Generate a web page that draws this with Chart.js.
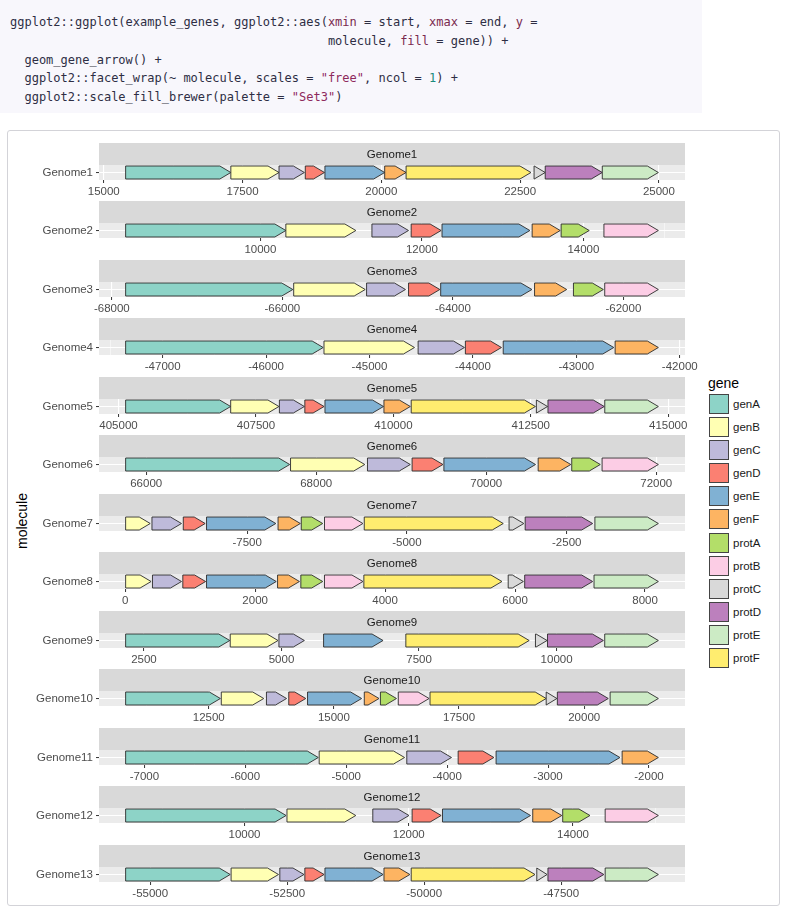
<!DOCTYPE html>
<html>
<head>
<meta charset="utf-8">
<script src="https://cdn.jsdelivr.net/npm/chart.js@4.4.0/dist/chart.umd.min.js"></script>
<style>
  body { margin: 0; width: 785px; height: 909px; background: #fff; position: relative; overflow: hidden;
         font-family: "Liberation Sans", Arial, sans-serif; }
  #code { position: absolute; left: 0; top: 0; width: 702px; height: 113px; background: #f8f7fc; }
  #code pre { margin: 0; position: absolute; left: 10px; top: 13px; font: 12px/18.8px "DejaVu Sans Mono", monospace; color: #2e2e44; }
  .arg { color: #7a2a4e; }
  .str { color: #8e2a5c; }
  .num { color: #1b8a7c; }
  #box { position: absolute; left: 7px; top: 130px; width: 771px; height: 774px; border: 1px solid #d3d3d8; border-radius: 3px; }
  .holder { position: absolute; left: 0; width: 700px; height: 59px; }
  #ylab { position: absolute; left: 22px; top: 521px; transform: translate(-50%, -50%) rotate(-90deg);
          font-size: 14px; color: #000; white-space: nowrap; }
  #legend { position: absolute; left: 708px; top: 373px; }
  #legend .title { font-size: 14px; color: #000; height: 21px; line-height: 21px; }
  #legend .item { position: relative; height: 23.1px; }
  #legend .key { position: absolute; left: 1px; top: 0; width: 18px; height: 18px; border: 1px solid #444; }
  #legend .lab { position: absolute; left: 25px; top: 0; line-height: 20px; font-size: 11.5px; color: #1a1a1a; }
</style>
</head>
<body>
<div id="code"><pre>ggplot2::ggplot(example_genes, ggplot2::aes(<span class="arg">xmin</span> = start, <span class="arg">xmax</span> = end, <span class="arg">y</span> =
                                            molecule, <span class="arg">fill</span> = gene)) +
  geom_gene_arrow() +
  ggplot2::facet_wrap(~ molecule, scales = <span class="str">"free"</span>, ncol = <span class="num">1</span>) +
  ggplot2::scale_fill_brewer(palette = <span class="str">"Set3"</span>)</pre></div>
<div id="box"></div>
<div id="ylab">molecule</div>
<div id="legend"></div>

<script>
/* =========================
   DATA
========================= */

const geneNames = ["genA", "genB", "genC", "genD", "genE", "genF",
                   "protA", "protB", "protC", "protD", "protE", "protF"];
const geneColors = ["#8DD3C7", "#FFFFB3", "#BEBADA", "#FB8072", "#80B1D3", "#FDB462",
                    "#B3DE69", "#FCCDE5", "#D9D9D9", "#BC80BD", "#CCEBC5", "#FFED6F"];

const molecules = ["Genome1", "Genome2", "Genome3", "Genome4", "Genome5", "Genome6", "Genome7",
                   "Genome8", "Genome9", "Genome10", "Genome11", "Genome12", "Genome13"];

// [gene, start, end]
const genome1 = [["genA", 15394, 17289], ["genB", 17289, 18157], ["genC", 18157, 18614], ["genD", 18630, 18976],
  ["genE", 18984, 20060], ["genF", 20060, 20446], ["protF", 20446, 22695], ["protC", 22751, 22952],
  ["protD", 22952, 23980], ["protE", 23980, 24990]];
const genome2 = [["genA", 8331, 10315], ["genB", 10315, 11182], ["genC", 11381, 11834], ["genD", 11867, 12238],
  ["genE", 12249, 13337], ["genF", 13365, 13713], ["protA", 13724, 14072], ["protB", 14254, 14928]];
const genome3 = [["genA", -67838, -65877], ["genB", -65867, -65028], ["genC", -65012, -64556], ["genD", -64520, -64153],
  ["genE", -64143, -63073], ["genF", -63042, -62665], ["protA", -62586, -62235], ["protB", -62219, -61590]];
const genome4 = [["genA", -47358, -45448], ["genB", -45440, -44565], ["genC", -44530, -44082], ["genD", -44073, -43724],
  ["genE", -43707, -42638], ["genF", -42625, -42207]];
const genome5 = [["genA", 405130, 407041], ["genB", 407041, 407919], ["genC", 407927, 408382], ["genD", 408390, 408740],
  ["genE", 408756, 409821], ["genF", 409829, 410309], ["protF", 410325, 412585], ["protC", 412602, 412805],
  ["protD", 412813, 413837], ["protE", 413846, 414821]];
const genome6 = [["genA", 65758, 67688], ["genB", 67698, 68571], ["genC", 68603, 69107], ["genD", 69128, 69491],
  ["genE", 69502, 70580], ["genF", 70611, 70995], ["protA", 71006, 71342], ["protB", 71363, 72025]];
const genome7 = [["genB", -9402, -9017], ["genC", -8990, -8528], ["genD", -8500, -8157], ["genE", -8136, -7052],
  ["genF", -7017, -6668], ["protA", -6654, -6318], ["protB", -6290, -5689], ["protF", -5668, -3493],
  ["protC", -3402, -3171], ["protD", -3150, -2094], ["protE", -2059, -1066]];
const genome8 = [["genB", 7, 399], ["genC", 420, 867], ["genD", 887, 1238], ["genE", 1252, 2325],
  ["genF", 2345, 2682], ["protA", 2703, 3040], ["protB", 3067, 3659], ["protF", 3673, 5798],
  ["protC", 5894, 6128], ["protD", 6148, 7194], ["protE", 7215, 8205]];
const genome9 = [["genA", 2167, 4060], ["genB", 4068, 4937], ["genC", 4953, 5416], ["genE", 5765, 6846],
  ["protF", 7260, 9502], ["protC", 9616, 9827], ["protD", 9835, 10851], ["protE", 10875, 11850]];
const genome10 = [["genA", 10839, 12732], ["genB", 12750, 13598], ["genC", 13652, 14054], ["genD", 14098, 14438],
  ["genE", 14473, 15554], ["genF", 15607, 15902], ["protA", 15929, 16250], ["protB", 16286, 16902],
  ["protF", 16920, 19241], ["protC", 19241, 19455], ["protD", 19464, 20482], ["protE", 20518, 21482]];
const genome11 = [["genA", -7186, -5277], ["genB", -5268, -4422], ["genC", -4400, -3957], ["genD", -3891, -3537],
  ["genE", -3515, -2288], ["genF", -2266, -1907]];
const genome12 = [["genA", 8552, 10506], ["genB", 10517, 11355], ["genC", 11562, 12003], ["genD", 12041, 12395],
  ["genE", 12411, 13483], ["genF", 13510, 13864], ["protA", 13875, 14207], ["protB", 14392, 15040]];
const genome13 = [["genA", -55449, -53540], ["genB", -53524, -52659], ["genC", -52635, -52194], ["genD", -52178, -51827],
  ["genE", -51811, -50750], ["genF", -50734, -50261], ["protF", -50237, -47977], ["protC", -47945, -47757],
  ["protD", -47741, -46721], ["protE", -46697, -45726]];

const genomeData = [genome1, genome2, genome3, genome4, genome5, genome6, genome7,
                    genome8, genome9, genome10, genome11, genome12, genome13];

// x axis breaks per facet
const genomeTicks = [
  [15000, 17500, 20000, 22500, 25000],
  [10000, 12000, 14000],
  [-68000, -66000, -64000, -62000],
  [-47000, -46000, -45000, -44000, -43000, -42000],
  [405000, 407500, 410000, 412500, 415000],
  [66000, 68000, 70000, 72000],
  [-7500, -5000, -2500],
  [0, 2000, 4000, 6000, 8000],
  [2500, 5000, 7500, 10000],
  [12500, 15000, 17500, 20000],
  [-7000, -6000, -5000, -4000, -3000, -2000],
  [10000, 12000, 14000],
  [-55000, -52500, -50000, -47500]
];

/* =========================
   PLUGINS
========================= */

const FONT = "'Liberation Sans', Arial, sans-serif";

const facetPanel = {
  id: "facetPanel",
  beforeDraw(chart, args, opts) {
    const { ctx, chartArea: a } = chart;
    ctx.save();
    ctx.fillStyle = "#EBEBEB";
    ctx.fillRect(a.left, a.top, a.right - a.left, a.bottom - a.top);
    // strip
    ctx.fillStyle = "#D9D9D9";
    ctx.fillRect(a.left, 0, a.right - a.left, a.top);
    ctx.fillStyle = "#1A1A1A";
    ctx.font = "11.5px " + FONT;
    ctx.textAlign = "center";
    ctx.textBaseline = "middle";
    ctx.fillText(opts.label, (a.left + a.right) / 2, a.top / 2 + 0.5);
    ctx.restore();
  }
};

const geneArrows = {
  id: "geneArrows",
  beforeDatasetDraw() { return false; },
  afterDatasetsDraw(chart) {
    const ctx = chart.ctx;
    const meta = chart.getDatasetMeta(0);
    const colors = chart.data.datasets[0].backgroundColor;
    ctx.save();
    meta.data.forEach((bar, i) => {
      const p = bar.getProps(["x", "base", "y", "height"], true);
      const x0 = Math.min(p.x, p.base), x1 = Math.max(p.x, p.base);
      const h = p.height / 2;
      const hx = x1 - Math.min(11, x1 - x0);
      ctx.beginPath();
      ctx.moveTo(x0, p.y - h);
      ctx.lineTo(hx, p.y - h);
      ctx.lineTo(x1, p.y);
      ctx.lineTo(hx, p.y + h);
      ctx.lineTo(x0, p.y + h);
      ctx.closePath();
      ctx.fillStyle = colors[i];
      ctx.fill();
      ctx.lineWidth = 0.9;
      ctx.strokeStyle = "#2b2b2b";
      ctx.stroke();
    });
    ctx.restore();
  }
};

/* =========================
   FACETS
========================= */

molecules.forEach((name, idx) => {
  const rows = genomeData[idx];
  const majors = genomeTicks[idx];

  const lo = Math.min(...rows.map(r => r[1]));
  const hi = Math.max(...rows.map(r => r[2]));
  const pad = (hi - lo) * 0.05;
  const xmin = lo - pad, xmax = hi + pad;

  // minor breaks halfway between the majors
  const step = majors[1] - majors[0];
  const all = [];
  for (let v = majors[0] - step * 4; v <= xmax; v += step / 2) {
    if (v >= xmin) all.push(v);
  }

  const holder = document.createElement("div");
  holder.className = "holder";
  holder.style.top = (142.5 + idx * 58.5) + "px";
  const canvas = document.createElement("canvas");
  canvas.width = 700;
  canvas.height = 59;
  canvas.style.width = "700px";
  canvas.style.height = "59px";
  holder.appendChild(canvas);
  document.body.appendChild(holder);

  const isMajor = v => majors.includes(v);

  new Chart(canvas, {
    type: "bar",
    data: {
      labels: [name],
      datasets: [{
        data: rows.map(r => ({ x: [r[1], r[2]], y: name })),
        backgroundColor: rows.map(r => geneColors[geneNames.indexOf(r[0])]),
        barThickness: 13
      }]
    },
    options: {
      indexAxis: "y",
      responsive: false,
      maintainAspectRatio: false,
      animation: false,
      events: [],
      layout: { padding: { left: 0, right: 15, top: 22, bottom: 0 } },
      plugins: {
        legend: { display: false },
        tooltip: { enabled: false },
        facetPanel: { label: name }
      },
      scales: {
        x: {
          type: "linear",
          min: xmin,
          max: xmax,
          afterBuildTicks: s => { s.ticks = all.map(v => ({ value: v })); },
          afterFit: s => { s.height = 22; },
          border: { display: false },
          grid: {
            color: "#FFFFFF",
            lineWidth: c => (c.tick && isMajor(c.tick.value)) ? 1.1 : 0.5,
            tickColor: c => (c.tick && isMajor(c.tick.value)) ? "#333333" : "rgba(0,0,0,0)",
            tickLength: 3,
            tickWidth: 1
          },
          ticks: {
            autoSkip: false,
            maxRotation: 0,
            padding: 2,
            color: "#4D4D4D",
            font: { family: FONT, size: 11.5 },
            callback: v => isMajor(v) ? String(v) : ""
          }
        },
        y: {
          type: "category",
          afterFit: s => { s.width = 99; },
          border: { display: false },
          grid: {
            offset: false,
            color: "#FFFFFF",
            lineWidth: 1.1,
            tickColor: "#333333",
            tickLength: 3,
            tickWidth: 1
          },
          ticks: {
            padding: 3,
            color: "#4D4D4D",
            font: { family: FONT, size: 11.5 }
          }
        }
      }
    },
    plugins: [facetPanel, geneArrows]
  });
});

/* =========================
   LEGEND
========================= */

const legend = document.getElementById("legend");
legend.innerHTML = '<div class="title">gene</div>' + geneNames.map((g, i) =>
  '<div class="item"><div class="key" style="background:' + geneColors[i] + '"></div>' +
  '<div class="lab">' + g + '</div></div>').join("");
</script>
</body>
</html>
